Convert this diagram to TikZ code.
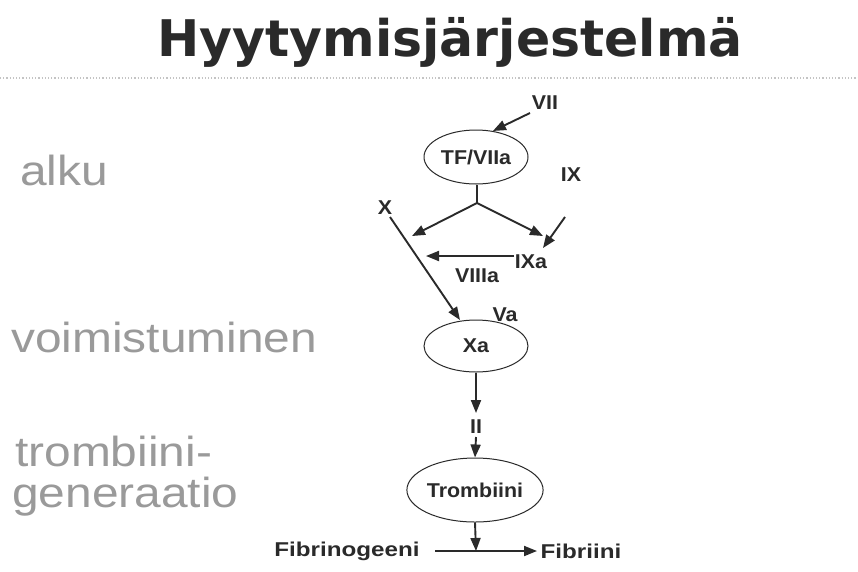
\documentclass[tikz,border=0pt]{standalone}
\usepackage{fontspec}
\setmainfont{Liberation Sans}[FakeStretch=1.14]
\newfontfamily\nodefont{Liberation Sans}[FakeStretch=1.07]
\newfontfamily\titlefont{DejaVu Sans}
\usetikzlibrary{arrows.meta,shapes.geometric}
\definecolor{ink}{HTML}{2A2A2A}
\definecolor{phase}{HTML}{9A9A9A}
\definecolor{rule}{HTML}{C4C4C4}
\tikzset{
  lbl/.style={font=\nodefont\fontsize{20}{22}\selectfont\bfseries, text=ink, inner sep=0pt},
  factor/.style={ellipse, draw=ink, line width=1pt, inner sep=0pt, font=\nodefont\fontsize{20}{22}\selectfont\bfseries, text=ink},
  arr/.style={draw=ink, line width=1.9pt, -{Triangle[length=13pt,width=10pt]}},
  plain/.style={draw=ink, line width=1.9pt},
  phasetext/.style={font=\fontsize{42}{46}\selectfont, text=phase, inner sep=0pt, anchor=base west},
}
\newcommand{\widetext}[1]{\scalebox{1.13}[1]{#1}}
\begin{document}
\begin{tikzpicture}[x=1pt,y=-1pt]
\useasboundingbox (0,0) rectangle (858,571);
\fill[white] (0,0) rectangle (858,571);

% heading and rule
\node[font=\titlefont\bfseries\fontsize{50.5}{54}\selectfont, text=ink, inner sep=0pt] (title) at (450,42) {Hyytymisjärjestelmä};
\draw[rule, line width=1.2pt, dotted] (0,78) -- (858,78);

% phase names
\node[phasetext] (p1) at (20,185) {alku};
\node[phasetext] (p2) at (11,352) {voimistuminen};
\node[phasetext] (p3) at (15,466) {trombiini-};
\node[phasetext] (p4) at (12,507) {generaatio};

% initiation
\node[lbl] (vii) at (545,103) {VII};
\node[factor, minimum width=104pt, minimum height=54pt] (tf) at (476,157) {TF/VIIa};
\node[lbl] (ix) at (571,175) {IX};
\coordinate (viiStart) at (530,113);
\coordinate (fork) at (477,203);
\coordinate (xend) at (412,236);
\coordinate (ixaend) at (543,236);
\coordinate (ixStart) at (565,217);
\coordinate (ixEnd) at (543,248);
\draw[arr] (viiStart) -- (tf.57);
\draw[plain] (tf.south -| fork) -- (fork);
\draw[arr] (fork) -- (xend);
\draw[arr] (fork) -- (ixaend);
\draw[arr] (ixStart) -- (ixEnd);
\node[lbl] (ixa) at (531,262) {IXa};
\coordinate (viiiaStart) at (514,256);
\coordinate (viiiaEnd) at (426,256);
\draw[arr] (viiiaStart) -- (viiiaEnd);
\node[lbl] (viiia) at (477,276) {VIIIa};

% amplification
\node[lbl] (x) at (385,208) {X};
\node[factor, minimum width=104pt, minimum height=52pt] (xa) at (476,346) {Xa};
\node[lbl] (va) at (505,315) {Va};
\coordinate (xStart) at (390,217);
\coordinate (xaTop) at (460,320);
\draw[arr] (xStart) -- (xaTop);

% thrombin generation
\node[lbl] (ii) at (476,427) {II};
\node[factor, minimum width=124pt, minimum height=64pt] (tromb) at (475,490) {Trombiini};
\coordinate (iiAbove) at (476,413);
\coordinate (iiBelow) at (476,437);
\draw[arr] (xa.south) -- (iiAbove);
\draw[arr] (iiBelow) -- (tromb.north);

\node[lbl] (fbg) at (347,551) {\widetext{Fibrinogeeni}};
\node[lbl] (fbn) at (581,551) {\widetext{Fibriini}};
\coordinate (convStart) at (435,551);
\coordinate (convEnd) at (537,551);
\coordinate (meet) at (476,551);
\draw[arr] (convStart) -- (convEnd);
\draw[arr] (tromb.south) -- (meet);
\end{tikzpicture}
\end{document}
